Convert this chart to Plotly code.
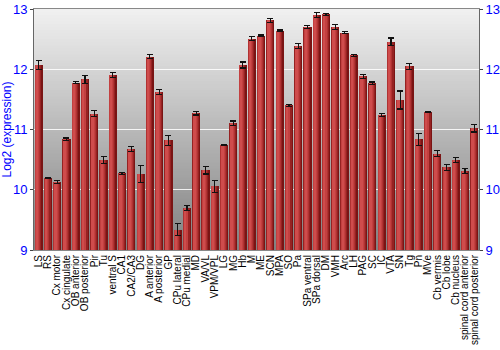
import plotly.graph_objects as go

categories = ["LS", "RS", "Cx motor", "Cx cingulate", "OB anterior", "OB posterior", "Pir", "Tu",
              "ventral S", "CA1", "CA2/CA3", "DG", "A anterior", "A posterior", "GP", "CPu lateral",
              "CPu medial", "MD", "VA/VL", "VPM/VPL", "LG", "MG", "Hb", "M", "ME", "SCN", "MPA", "SO",
              "Pa", "SPa ventral", "SPa dorsal", "DM", "VMH", "Arc", "LH", "PAG", "SC", "IC", "VTA",
              "SN", "Tg", "Pn", "MVe", "Cb vermis", "Cb lobe", "Cb nucleus", "spinal cord anterior",
              "spinal cord posterior"]
values = [12.07, 10.20, 10.13, 10.84, 11.78, 11.83, 11.26, 10.49, 11.90, 10.27, 10.68, 10.26,
          12.21, 11.62, 10.82, 9.34, 9.70, 11.27, 10.32, 10.06, 10.74, 11.10, 12.07, 12.51,
          12.56, 12.81, 12.64, 11.40, 12.39, 12.70, 12.90, 12.91, 12.70, 12.61, 12.23, 11.88,
          11.77, 11.24, 12.46, 11.49, 12.05, 10.84, 11.29, 10.60, 10.37, 10.49, 10.31, 11.02]
errors = [0.08, 0.01, 0.03, 0.02, 0.02, 0.07, 0.05, 0.06, 0.04, 0.02, 0.04, 0.14,
          0.03, 0.04, 0.08, 0.10, 0.04, 0.03, 0.06, 0.10, 0.01, 0.04, 0.05, 0.03,
          0.01, 0.03, 0.01, 0.02, 0.04, 0.02, 0.04, 0.02, 0.04, 0.02, 0.02, 0.03,
          0.02, 0.03, 0.06, 0.15, 0.05, 0.10, 0.005, 0.05, 0.05, 0.04, 0.04, 0.06]
y_ticks = [9, 10, 11, 12, 13]
y_range = [9, 13]

fig = go.Figure()

# cylindrical shading layers: (offset, width, color)
layers = [(-0.44, 0.88, "#7a1414"),
          (-0.44, 0.72, "#962222"),
          (-0.40, 0.56, "#b03232"),
          (-0.36, 0.42, "#c24040"),
          (-0.32, 0.26, "#cf4c4c")]
for off, w, col in layers:
    fig.add_trace(go.Bar(x=categories, y=values, base=0, offset=off, width=w,
                         marker=dict(color=col, line=dict(width=0)),
                         hoverinfo="skip", showlegend=False))
# transparent carrier for error bars
fig.add_trace(go.Bar(x=categories, y=values, offset=-0.44, width=0.88,
                     marker=dict(color="rgba(0,0,0,0)", line=dict(width=0)),
                     error_y=dict(type="data", array=errors, color="#111111",
                                  thickness=1.2, width=3),
                     showlegend=False))
# secondary axis for right-hand labels
fig.add_trace(go.Scatter(x=[categories[0]], y=[y_range[0]], yaxis="y2",
                         mode="markers", marker=dict(opacity=0), showlegend=False,
                         hoverinfo="skip"))

# vertical gradient background
n = 80
top = (241, 241, 241)
bot = (128, 128, 128)
span = y_range[1] - y_range[0]
shapes = []
for i in range(n):
    t = (i + 0.5) / n
    c = tuple(int(round(top[k] + (bot[k] - top[k]) * t)) for k in range(3))
    y1 = y_range[1] - span * i / n
    y0 = y_range[1] - span * (i + 1.6) / n
    shapes.append(dict(type="rect", xref="paper", yref="y", x0=0, x1=1,
                       y0=max(y0, y_range[0]), y1=y1,
                       fillcolor="rgb(%d,%d,%d)" % c, line=dict(width=0), layer="below"))

fig.update_layout(
    width=500, height=350,
    margin=dict(l=34, r=21, t=9, b=100),
    paper_bgcolor="white", plot_bgcolor="white",
    barmode="overlay", bargap=0,
    shapes=shapes,
    font=dict(family="Liberation Sans, Arial, sans-serif"),
    xaxis=dict(type="category", tickangle=-90, tickfont=dict(size=10, color="black"),
               tickmode="array", tickvals=categories, ticktext=categories,
               showgrid=False, showline=True, mirror=True, linecolor="#888888",
               linewidth=1, ticks="", zeroline=False, automargin=False,
               range=[-0.5, len(categories) - 0.5]),
    yaxis=dict(range=y_range, tickvals=y_ticks, tickfont=dict(size=13, color="blue"),
               showgrid=True, gridcolor="rgba(255,255,255,0.85)", gridwidth=1,
               showline=True, linecolor="#666666", linewidth=1,
               ticks="outside", ticklen=3, tickcolor="#444444",
               title=dict(text="Log2 (expression)", font=dict(size=12, color="blue"),
                          standoff=0),
               zeroline=False, automargin=False),
    yaxis2=dict(range=y_range, tickvals=y_ticks, overlaying="y", side="right",
                tickfont=dict(size=13, color="blue"), showgrid=False,
                showline=True, linecolor="#666666", linewidth=1,
                ticks="outside", ticklen=3, tickcolor="#444444", zeroline=False,
                automargin=False),
)

fig.write_html("out.html")
